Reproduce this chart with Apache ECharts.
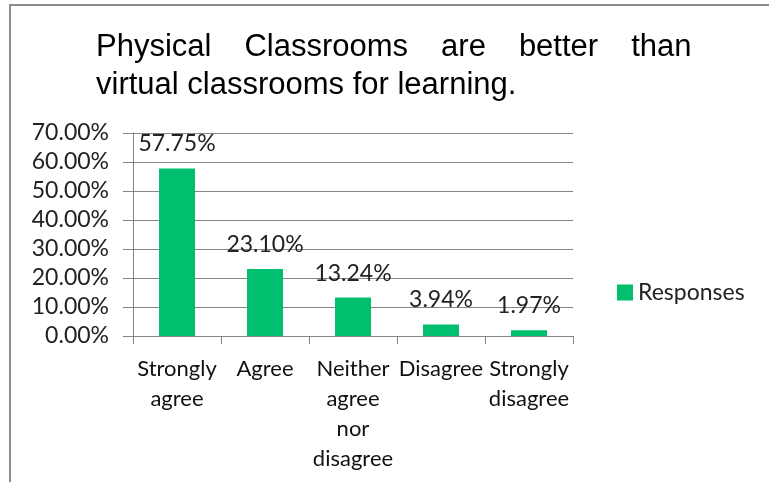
<!DOCTYPE html>
<html>
<head>
<meta charset="utf-8">
<title>Physical vs virtual classrooms</title>
<script src="https://cdn.jsdelivr.net/npm/echarts@6/dist/echarts.min.js"></script>
<style>
  html, body { margin: 0; padding: 0; background: #fff; }
  #chart { width: 769px; height: 482px; }
</style>
</head>
<body>
<div id="chart"></div>
<script>
// 数据
const categories = ["Strongly\nagree", "Agree", "Neither\nagree\nnor\ndisagree", "Disagree", "Strongly\ndisagree"];
const responses = [57.75, 23.10, 13.24, 3.94, 1.97];
const yTicks = [0, 10, 20, 30, 40, 50, 60, 70];
const seriesName = "Responses";
const titleLine1 = ["Physical", "Classrooms", "are", "better", "than"];
const titleLine2 = "virtual classrooms for learning.";

const labelFont = "Lato, 'Noto Sans', sans-serif";
const gridColor = "#868686";

// 标题第一行两端对齐：单词之间用固定宽度的空白片段
const titleText = titleLine1.join("{g| }") + "\n" + titleLine2;

const chart = echarts.init(document.getElementById("chart"), null, { renderer: "canvas" });

const option = {
  animation: false,
  title: {
    text: titleText,
    left: 91,
    top: 23,
    textStyle: {
      fontFamily: "'Liberation Sans', Arial, sans-serif",
      fontSize: 31,
      fontWeight: "normal",
      color: "#000",
      lineHeight: 38,
      rich: {
        g: { width: 33, fontSize: 31, lineHeight: 38 },
      },
    },
  },
  legend: {
    data: [seriesName],
    left: 617,
    top: 281,
    padding: 0,
    itemWidth: 16,
    itemHeight: 16,
    itemGap: 7,
    icon: "rect",
    textStyle: { fontFamily: labelFont, fontSize: 23, color: "#222" },
  },
  grid: {
    left: 133,
    right: 196,
    top: 133,
    bottom: 146,
  },
  xAxis: {
    type: "category",
    data: categories,
    axisLine: { lineStyle: { color: gridColor } },
    axisTick: { show: true, length: 8, lineStyle: { color: gridColor } },
    axisLabel: {
      interval: 0,
      margin: 18,
      fontFamily: labelFont,
      fontSize: 22,
      color: "#111",
      lineHeight: 30,
    },
  },
  yAxis: {
    type: "value",
    min: yTicks[0],
    max: yTicks[yTicks.length - 1],
    interval: 10,
    axisLine: { show: true, lineStyle: { color: gridColor } },
    axisTick: { show: true, length: 10, lineStyle: { color: gridColor } },
    splitLine: { lineStyle: { color: gridColor } },
    axisLabel: {
      margin: 24,
      fontFamily: labelFont,
      fontSize: 23,
      color: "#222",
      formatter: (v) => v.toFixed(2) + "%",
    },
  },
  series: [
    {
      name: seriesName,
      type: "bar",
      data: responses,
      barWidth: 36,
      itemStyle: { color: "#00BF6F" },
      label: {
        show: true,
        position: "top",
        distance: 13,
        fontFamily: labelFont,
        fontSize: 23,
        color: "#222",
        formatter: (p) => p.value.toFixed(2) + "%",
      },
    },
  ],
  graphic: [
    {
      type: "rect",
      shape: { x: 10, y: 5, width: 800, height: 600 },
      style: { fill: "none", stroke: "#8c8c8c", lineWidth: 2 },
      silent: true,
    },
  ],
};

chart.setOption(option);
</script>
</body>
</html>
